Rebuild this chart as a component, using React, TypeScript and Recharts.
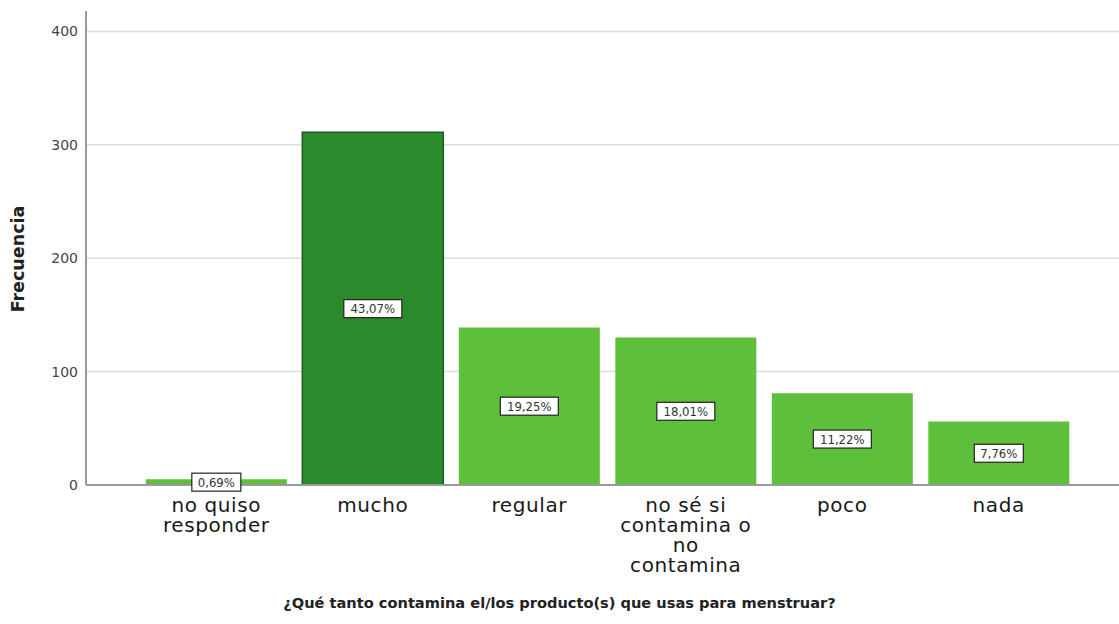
import React from 'react';
import {
  BarChart,
  Bar,
  XAxis,
  YAxis,
  CartesianGrid,
  Cell,
  LabelList,
  Label
} from 'recharts';

const categories = [
  'no quiso\nresponder',
  'mucho',
  'regular',
  'no sé si\ncontamina o\nno\ncontamina',
  'poco',
  'nada'
];
const counts = [5, 311, 139, 130, 81, 56];
const yTicks = [0, 100, 200, 300, 400];
const total = counts.reduce((a, b) => a + b, 0);

const data = categories.map((name, i) => ({
  name,
  count: counts[i],
  pct: ((counts[i] / total) * 100).toFixed(2).replace('.', ',') + '%'
}));

const FONT = '"DejaVu Sans", sans-serif';

const XTick = (props: any) => {
  const { x, y, payload } = props;
  const lines = String(payload.value).split('\n');
  return (
    <text x={x} y={y} textAnchor="middle" fill="#1a1a1a" fontSize={20} letterSpacing={0.6} fontFamily={FONT}>
      {lines.map((l, i) => (
        <tspan key={i} x={x} dy={i === 0 ? 19 : 20}>{l}</tspan>
      ))}
    </text>
  );
};

const PctLabel = (props: any) => {
  const { x, y, width, height, value } = props;
  const cx = x + width / 2;
  const cy = y + height / 2;
  const w = String(value).length * 9 + 4;
  const h = 18;
  return (
    <g>
      <rect x={cx - w / 2} y={cy - h / 2} width={w} height={h} fill="#fff" stroke="#222" strokeWidth={1.2} />
      <text
        x={cx}
        y={cy + 4.5}
        textAnchor="middle"
        fontSize={13}
        fontFamily={'"DejaVu Sans Condensed", "DejaVu Sans", sans-serif'}
        fill="#333"
      >
        {value}
      </text>
    </g>
  );
};

const YTitle = (props: any) => {
  const { viewBox } = props;
  const x = viewBox.x + 18;
  const y = viewBox.y + viewBox.height / 2 + 11;
  return (
    <text
      x={x}
      y={y}
      transform={`rotate(-90 ${x} ${y})`}
      textAnchor="middle"
      dominantBaseline="central"
      fontWeight="bold"
      fontSize={17.5}
      fontFamily={FONT}
      fill="#222"
    >
      Frecuencia
    </text>
  );
};

const App: React.FC = () => {
  return (
    <div style={{ position: 'absolute', left: 0, top: 0, width: 1119, height: 624, background: '#fff' }}>
      <BarChart
        width={1119}
        height={624}
        data={data}
        margin={{ top: 11, right: 0, left: 0, bottom: 0 }}
        barCategoryGap="5%"
      >
        <CartesianGrid vertical={false} horizontalValues={yTicks} stroke="#dcdcdc" strokeWidth={1.5} />
        <XAxis
          dataKey="name"
          height={139}
          interval={0}
          padding={{ left: 52, right: 42 }}
          axisLine={{ stroke: '#9a9a9a', strokeWidth: 2 }}
          tickLine={false}
          tick={<XTick />}
        />
        <YAxis
          width={86}
          domain={[0, 418]}
          ticks={yTicks}
          allowDataOverflow
          axisLine={{ stroke: '#9a9a9a', strokeWidth: 2 }}
          tickLine={false}
          tick={{ fill: '#444', fontSize: 14, fontFamily: FONT }}
        >
          <Label content={<YTitle />} />
        </YAxis>
        <Bar dataKey="count" isAnimationActive={false}>
          {data.map((d, i) => (
            <Cell
              key={`cell-${i}`}
              fill={d.name === 'mucho' ? '#2b8a2b' : '#5ebf3a'}
              stroke={d.name === 'mucho' ? '#1d5a1d' : 'none'}
              strokeWidth={1.5}
            />
          ))}
          <LabelList dataKey="pct" content={<PctLabel />} />
        </Bar>
      </BarChart>
      <div
        style={{
          position: 'absolute',
          left: 0,
          top: 594,
          width: 1119,
          textAlign: 'center',
          fontFamily: FONT,
          fontWeight: 'bold',
          fontSize: 14.6,
          color: '#222'
        }}
      >
        ¿Qué tanto contamina el/los producto(s) que usas para menstruar?
      </div>
    </div>
  );
};

export default App;
